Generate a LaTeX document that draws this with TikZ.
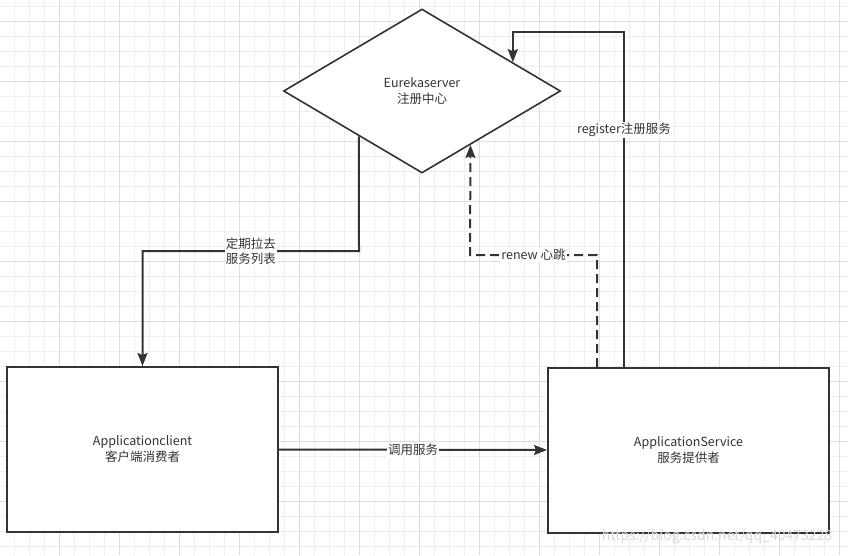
\documentclass[tikz,border=0pt]{standalone}
\usepackage{fontspec}
\setmainfont{Noto Sans CJK SC}
\usetikzlibrary{shapes.geometric,arrows.meta,positioning,calc}

\definecolor{ink}{HTML}{333333}
\definecolor{gridminor}{HTML}{EFEFEF}
\definecolor{gridmajor}{HTML}{DDDDDD}

\tikzset{
  box/.style={draw=ink, line width=2pt, fill=white, rectangle, inner sep=0pt,
    align=center, text=ink, font=\fontsize{12.5}{16}\selectfont},
  hub/.style={draw=ink, line width=1.6pt, fill=white, diamond, inner sep=0pt,
    align=center, text=ink, font=\fontsize{12.5}{16}\selectfont},
  link/.style={draw=ink, line width=2pt, -{Stealth[length=13pt, width=10pt, inset=2pt]}},
  lbl/.style={fill=white, inner sep=1pt, align=center, text=ink,
    font=\fontsize{12.5}{15}\selectfont},
}

\begin{document}
\begin{tikzpicture}[x=1pt, y=-1pt]
  \useasboundingbox (0,0) rectangle (848,555);
  \fill[white] (0,0) rectangle (848,555);

  % background grid
  \foreach \gx in {14,29,...,848} \draw[gridminor, line width=1pt] (\gx,0) -- (\gx,555);
  \foreach \gy in {6,21,...,555} \draw[gridminor, line width=1pt] (0,\gy) -- (848,\gy);
  \foreach \gx in {59,119,...,848} \draw[gridmajor, line width=1pt] (\gx,0) -- (\gx,555);
  \foreach \gy in {21,81,...,555} \draw[gridmajor, line width=1pt] (0,\gy) -- (848,\gy);

  % nodes
  \node[hub, minimum width=277pt, minimum height=164pt] (eureka) at (422,91) {Eurekaserver\\注册中心};
  \node[box, minimum width=271pt, minimum height=165pt] (client) at (142.5,449.5) {Applicationclient\\客户端消费者};
  \node[box, minimum width=281pt, minimum height=165pt] (service) at (688.5,450) {ApplicationService\\服务提供者};

  % connector ends
  \coordinate (pull) at ($(eureka.west)!0.547!(eureka.south)$);
  \coordinate (pullBend) at (359,251);
  \coordinate (regOut) at (624,367);
  \coordinate (regTop) at (624,32);
  \coordinate (regIn) at ($(eureka.north)!0.652!(eureka.east)$);
  \coordinate (renewOut) at (597,367);
  \coordinate (renewBend) at (470,255);
  \coordinate (renewIn) at ($(eureka.east)!0.652!(eureka.south)$);

  % connectors
  \draw[link] (pull) -- (pullBend) -| node[lbl, pos=0.25] {定期拉去\\服务列表} (client.north);
  \draw[link] (client.east) -- node[lbl] {调用服务} (service.west);
  \draw[link] (regOut) -- node[lbl, pos=0.707] {register注册服务} (regTop) -| (regIn);
  \draw[link, dash pattern=on 9pt off 5pt] (renewOut) |- node[lbl, pos=0.75] {renew 心跳} (renewBend) -- (renewIn);

  % watermark
  \node[text=gray!30, font=\fontsize{14}{14}\selectfont, inner sep=0pt] (mark) at (717,537) {https://blog.csdn.net/qq\_40473228};
\end{tikzpicture}
\end{document}
